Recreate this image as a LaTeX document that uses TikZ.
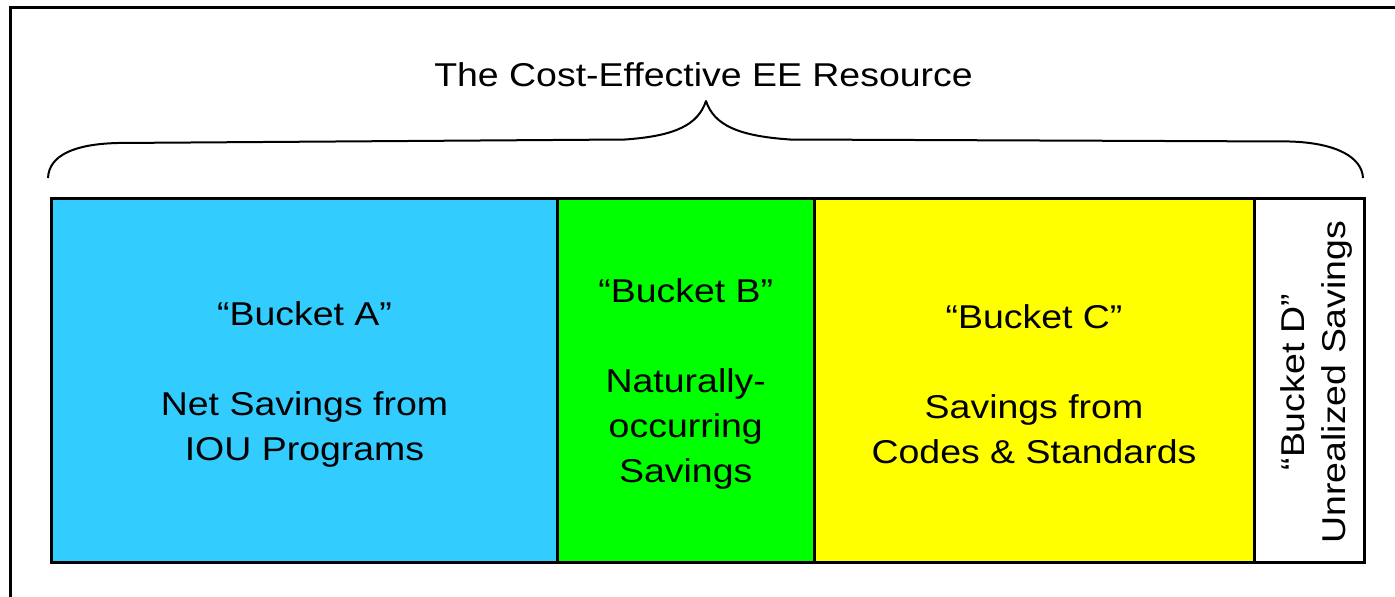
\documentclass[tikz,border=0pt]{standalone}
\usepackage{fontspec}
\setmainfont{Liberation Sans}[FakeStretch=1.135]
\definecolor{bucketA}{HTML}{33CCFF}
\definecolor{bucketB}{HTML}{00FF00}
\definecolor{bucketC}{HTML}{FFFF00}
\begin{document}
\begin{tikzpicture}[x=1pt,y=-1pt,
  bucket/.style={draw=black,line width=3pt,rectangle,inner sep=0pt,
    minimum height=363.5pt},
  label/.style={align=center,inner sep=0pt,text=black,
    font=\fontsize{33}{45}\selectfont},
  brace/.style={draw=black,line width=2pt,line join=round}]
\useasboundingbox (0,0) rectangle (1395,597);
\fill[white] (0,0) rectangle (1395,597);
% outer frame (left and top edges)
\draw[line width=3pt] (10,600) -- (10,7) -- (1398,7);

% the four buckets
\node[bucket,fill=bucketA,minimum width=506pt] (A) at (304.5,380.25) {};
\node[bucket,fill=bucketB,minimum width=256.5pt] (B) at (685.75,380.25) {};
\node[bucket,fill=bucketC,minimum width=440pt] (C) at (1034,380.25) {};
\node[bucket,fill=white,minimum width=110pt] (D) at (1309,380.25) {};

\node[label] (tA) at ([yshift=-4pt]A.center) {“Bucket A”\\[45pt]Net Savings from\\IOU Programs};
\node[label] (tB) at ([yshift=-4pt]B.center) {“Bucket B”\\[45pt]Naturally-\\occurring\\Savings};
\node[label] (tC) at ([yshift=-4pt]C.center) {“Bucket C”\\[45pt]Savings from\\Codes \& Standards};
\node[label,rotate=90,font=\fontsize{33}{41}\selectfont] (tD) at (1316,382) {“Bucket D”\\Unrealized Savings};

% title and brace
\node[label,anchor=base] (title) at (703.5,86) {The Cost-Effective EE Resource};
\coordinate (bl) at (48,178);
\coordinate (tip) at (706,101);
\coordinate (br) at (1363,178);
\draw[brace] (bl) .. controls (49,155) and (75,144) .. (118,143)
  -- (625,139.5) .. controls (675,136) and (698,125) .. (tip)
  .. controls (714,125) and (738,136) .. (790,139.5)
  -- (1290,141.5) .. controls (1338,143) and (1362,158) .. (br);
\end{tikzpicture}
\end{document}
